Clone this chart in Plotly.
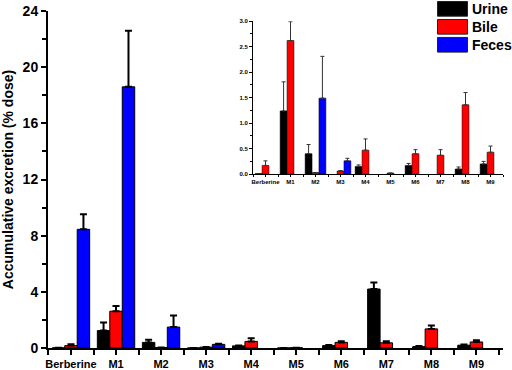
import plotly.graph_objects as go

categories = ["Berberine", "M1", "M2", "M3", "M4", "M5", "M6", "M7", "M8", "M9"]

# main panel (% dose)
urine = [0.01, 1.24, 0.40, 0.0, 0.15, 0.0, 0.17, 4.20, 0.10, 0.20]
urine_err = [None, 0.57, 0.18, None, 0.03, None, 0.04, 0.47, 0.04, 0.05]
bile = [0.17, 2.62, 0.03, 0.06, 0.47, 0.02, 0.40, 0.37, 1.36, 0.43]
bile_err = [0.09, 0.37, None, 0.01, 0.22, None, 0.08, 0.11, 0.24, 0.12]
feces = [8.45, 18.6, 1.49, 0.26, None, None, None, None, None, None]
feces_err = [1.08, 4.0, 0.82, 0.05, None, None, None, None, None, None]

# inset panel (zoomed, 0-3 % dose)
inset_urine = [0.01, 1.24, 0.40, None, 0.15, None, 0.17, None, 0.10, 0.20]
inset_bile = bile
inset_feces = [None, None, 1.49, 0.26, None, None, None, None, None, None]

main_yticks = [0, 4, 8, 12, 16, 20, 24]
inset_yticks = [0.0, 0.5, 1.0, 1.5, 2.0, 2.5, 3.0]

series_names = ["Urine", "Bile", "Feces"]
colors = ["#000000", "#ff0000", "#0000ff"]

FONT = "Liberation Sans, Arial, sans-serif"
xpos = list(range(len(categories)))

fig = go.Figure()

main_sets = [(urine, urine_err), (bile, bile_err), (feces, feces_err)]
for (vals, errs), name, col in zip(main_sets, series_names, colors):
    fig.add_trace(go.Bar(
        x=xpos, y=vals, name=name, marker=dict(color=col, line=dict(color="black", width=1)),
        error_y=dict(type="data", symmetric=False, array=errs,
                     arrayminus=[0] * len(vals), color="black", thickness=2, width=3.5),
        xaxis="x", yaxis="y", showlegend=False))

inset_sets = [(inset_urine, urine_err), (inset_bile, bile_err), (inset_feces, feces_err)]
for (vals, errs), name, col in zip(inset_sets, series_names, colors):
    errs2 = [e if v is not None else None for v, e in zip(vals, errs)]
    fig.add_trace(go.Bar(
        x=xpos, y=vals, name=name, marker=dict(color=col, line=dict(color="black", width=0.5)),
        error_y=dict(type="data", symmetric=False, array=errs2,
                     arrayminus=[0] * len(vals), color="#333333", thickness=1, width=2),
        xaxis="x2", yaxis="y2", showlegend=False))

W, H = 512, 370
L, R, T, B = 48, 9, 10.5, 21.7
pw = W - L - R
ph = H - T - B


def px_x(p):
    return (p - L) / pw


def px_y(p):
    return (H - B - p) / ph


axis_common = dict(showline=True, linecolor="black", showgrid=False, zeroline=False,
                   ticks="outside", tickcolor="black")

fig.update_layout(
    width=W, height=H,
    margin=dict(l=L, r=R, t=T, b=B, autoexpand=False),
    paper_bgcolor="white", plot_bgcolor="white",
    barmode="group", bargap=0.17, bargroupgap=0,
    font=dict(family=FONT, color="black"),
    xaxis=dict(**axis_common, domain=[0, 1], range=[-0.51, 9.59],
               tickvals=xpos, ticktext=categories, linewidth=2, tickwidth=1.5, ticklen=5,
               tickfont=dict(size=11, weight="bold"),
               minor=dict(dtick=0.5, tick0=0.5, ticks="outside", ticklen=5, tickwidth=1.5,
                          tickcolor="black"),
               anchor="y"),
    yaxis=dict(**axis_common, domain=[0, 1], range=[0, 24], tickvals=main_yticks,
               linewidth=2, tickwidth=1.5, ticklen=5,
               tickfont=dict(size=14, weight="bold"),
               minor=dict(dtick=2, ticks="outside", ticklen=4, tickwidth=1.5, tickcolor="black"),
               title=dict(text="Accumulative excretion (% dose)",
                          font=dict(size=14, weight="bold"), standoff=12),
               automargin=False, anchor="x"),
    xaxis2=dict(**axis_common, domain=[px_x(253), 1], range=[-0.5, 9.5],
                tickvals=xpos, ticktext=categories, linewidth=1, tickwidth=1, ticklen=2,
                tickfont=dict(size=6, weight="bold"),
                minor=dict(dtick=0.5, tick0=0.5, ticks="outside", ticklen=2, tickwidth=1,
                           tickcolor="black"),
                anchor="y2"),
    yaxis2=dict(**axis_common, domain=[px_y(174), px_y(20.7)], range=[0, 3.0],
                tickvals=inset_yticks, tickformat=".1f", linewidth=1, tickwidth=1, ticklen=3,
                tickfont=dict(size=6, weight="bold"),
                minor=dict(dtick=0.25, ticks="outside", ticklen=2, tickwidth=1, tickcolor="black"),
                anchor="x2"),
)

# legend drawn as boxes + labels (paper coordinates)
box_tops = [1.0, 19.0, 37.0]
box_h = 14.7
for top, name, col in zip(box_tops, series_names, colors):
    fig.add_shape(type="rect", xref="paper", yref="paper",
                  x0=px_x(437.5), x1=px_x(467.5), y0=px_y(top + box_h), y1=px_y(top),
                  fillcolor=col, line=dict(color="#222222", width=1))
    fig.add_annotation(xref="paper", yref="paper", x=px_x(470), y=px_y(top + box_h / 2),
                       text=name, showarrow=False, xanchor="left", yanchor="middle",
                       font=dict(size=14, weight="bold", family=FONT, color="black"))

fig.write_html("out.html", config={"displayModeBar": False},
               post_script="document.body.style.margin='0';document.body.style.overflow='hidden';")
